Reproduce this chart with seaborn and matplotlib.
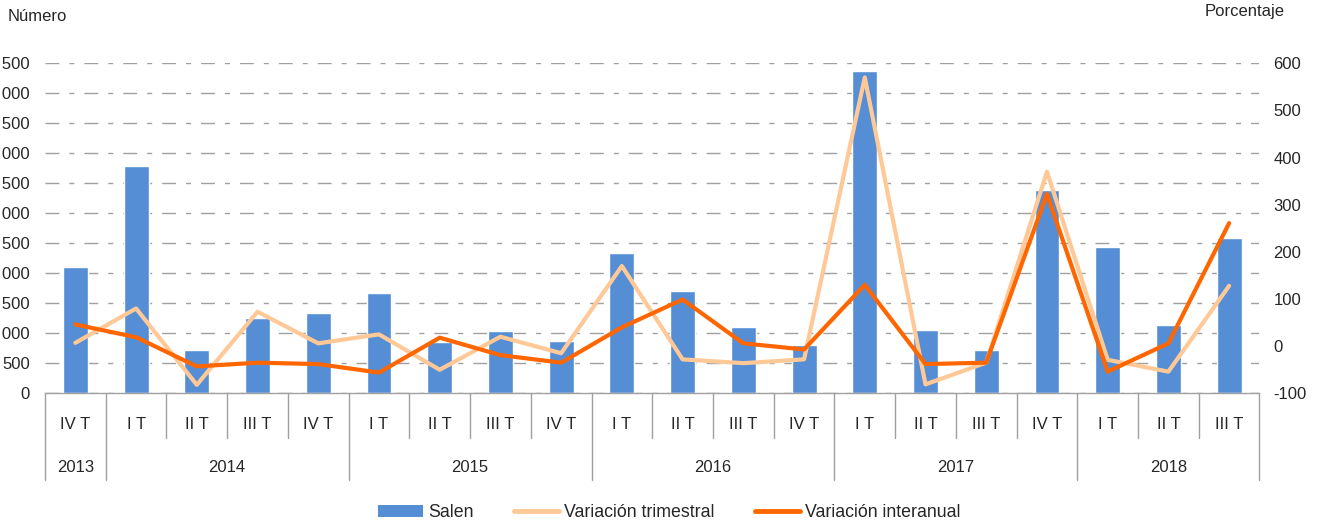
import numpy as np
import pandas as pd
import matplotlib
matplotlib.use("Agg")
import matplotlib.pyplot as plt
import matplotlib.transforms as mtransforms
from matplotlib.patches import Patch
from matplotlib.lines import Line2D
import seaborn as sns

# quarters and years shown on the two-level x axis
quarters = ["IV T",
            "I T", "II T", "III T", "IV T",
            "I T", "II T", "III T", "IV T",
            "I T", "II T", "III T", "IV T",
            "I T", "II T", "III T", "IV T",
            "I T", "II T", "III T"]
years = ["2013"] + ["2014"] * 4 + ["2015"] * 4 + ["2016"] * 4 + ["2017"] * 4 + ["2018"] * 3

# number of companies leaving (left axis)
salen = [2100, 3790, 720, 1260, 1340, 1670, 860, 1040, 870, 2340,
         1705, 1105, 805, 5370, 1055, 720, 3390, 2440, 1140, 2590]
# percent changes (right axis)
var_trimestral = [7, 80, -82, 73, 6, 25, -50, 20, -15, 170,
                  -28, -36, -28, 570, -81, -35, 370, -29, -54, 128]
var_interanual = [46, 19, -43, -35, -38, -56, 18, -19, -35, 40,
                  99, 6, -7, 130, -38, -35, 323, -54, 6, 261]

left_ticks = np.arange(0, 5501, 500)
right_ticks = np.arange(-100, 601, 100)

BLUE = "#558ED5"
LIGHT = "#FFC997"
DARK = "#FF6600"
GRID = "#A0A0A0"
FONT = 12

df = pd.DataFrame({"periodo": [q + " " + y for q, y in zip(quarters, years)],
                   "trimestre": quarters, "anio": years, "salen": salen,
                   "trimestral": var_trimestral, "interanual": var_interanual})

sns.set_style("white")
plt.rcParams["font.family"] = ["Liberation Sans", "DejaVu Sans"]
plt.rcParams["axes.unicode_minus"] = False

fig = plt.figure(figsize=(13.23, 5.24), dpi=100)
ax = fig.add_axes([0.034, 0.2494, 0.918, 0.6298])

sns.barplot(data=df, x="periodo", y="salen", color=BLUE, width=0.41,
            saturation=1, ax=ax, zorder=2)
ax.set_ylim(0, 5500)
ax.set_xlim(-0.5, len(df) - 0.5)
ax.set_yticks(left_ticks)
# thousands with a space; the left part falls outside the figure as in the source
ax.set_yticklabels(["{:,}".format(v).replace(",", " ") for v in left_ticks])
ax.set_xticks([])
ax.set_xlabel("")
ax.set_ylabel("")
ax.tick_params(axis="y", length=0, labelsize=FONT, pad=11)
ax.grid(axis="y", color=GRID, linewidth=1, linestyle=(0, (10, 7.2, 3.6, 7.2)), zorder=0)
ax.set_axisbelow(True)
for s in ["top", "left", "right"]:
    ax.spines[s].set_visible(False)
ax.spines["bottom"].set_color(GRID)
ax.spines["bottom"].set_linewidth(1)

ax2 = ax.twinx()
sns.lineplot(data=df, x="periodo", y="trimestral", color=LIGHT, linewidth=3,
             sort=False, ax=ax2, zorder=3)
sns.lineplot(data=df, x="periodo", y="interanual", color=DARK, linewidth=3,
             sort=False, ax=ax2, zorder=4)
ax2.set_ylim(-100, 600)
ax2.set_yticks(right_ticks)
ax2.set_xlim(-0.5, len(df) - 0.5)
ax2.set_xticks([])
ax2.set_xlabel("")
ax2.set_ylabel("")
ax2.tick_params(axis="y", length=0, labelsize=FONT, pad=10)
for s in ["top", "left", "right", "bottom"]:
    ax2.spines[s].set_visible(False)

# two-level category axis: quarter row then year row
trans = mtransforms.blended_transform_factory(ax.transData, ax.transAxes)
n = len(df)
for i, q in enumerate(quarters):
    ax.text(i, -0.095, q, transform=trans, ha="center", va="center",
            fontsize=FONT, clip_on=False)

year_edges = [-0.5]
for i in range(1, n):
    if years[i] != years[i - 1]:
        year_edges.append(i - 0.5)
year_edges.append(n - 0.5)

for b in np.arange(-0.5, n, 1.0):
    bottom = -0.263 if b in year_edges else -0.135
    ax.plot([b, b], [0, bottom], transform=trans, color=GRID, linewidth=1,
            clip_on=False)

for a, b in zip(year_edges[:-1], year_edges[1:]):
    ax.text((a + b) / 2, -0.226, years[int(a + 0.5)], transform=trans,
            ha="center", va="center", fontsize=FONT, clip_on=False)

fig.text(0.006, 0.969, "Número", fontsize=FONT, ha="left", va="center")
fig.text(0.941, 0.979, "Porcentaje", fontsize=FONT, ha="center", va="center")

handles = [Patch(facecolor=BLUE, edgecolor="none"),
           Line2D([0], [0], color=LIGHT, linewidth=3.5),
           Line2D([0], [0], color=DARK, linewidth=3.5)]
fig.legend(handles, ["Salen", "Variación trimestral", "Variación interanual"],
           loc="center", bbox_to_anchor=(0.506, 0.022), ncol=3, frameon=False,
           fontsize=12.8, handlelength=2.5, handleheight=0.7, handletextpad=0.3,
           columnspacing=2.3)

fig.savefig("out.png", dpi=100)
